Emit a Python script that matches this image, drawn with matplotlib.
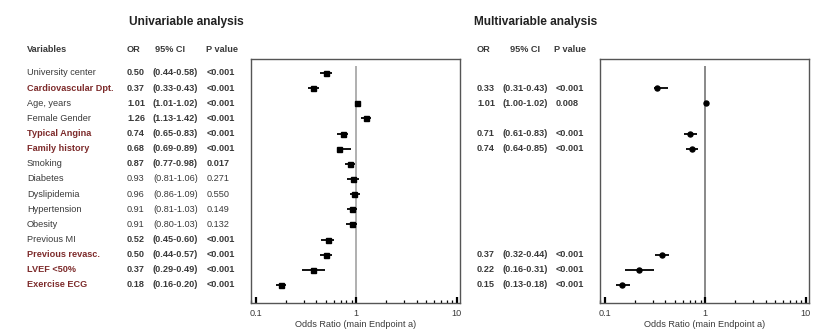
import matplotlib.pyplot as plt
import matplotlib.transforms as mtransforms

plt.rcParams['font.family'] = ['Liberation Sans', 'DejaVu Sans']

variables = ["University center", "Cardiovascular Dpt.", "Age, years", "Female Gender",
             "Typical Angina", "Family history", "Smoking", "Diabetes", "Dyslipidemia",
             "Hypertension", "Obesity", "Previous MI", "Previous revasc.", "LVEF <50%",
             "Exercise ECG"]
highlight = [False, True, False, False, True, True, False, False, False,
             False, False, False, True, True, True]

# univariable analysis
uni_or = [0.50, 0.37, 1.01, 1.26, 0.74, 0.68, 0.87, 0.93, 0.96, 0.91, 0.91, 0.52, 0.50, 0.37, 0.18]
uni_lo = [0.44, 0.33, 1.01, 1.13, 0.65, 0.69, 0.77, 0.81, 0.86, 0.81, 0.80, 0.45, 0.44, 0.29, 0.16]
uni_hi = [0.58, 0.43, 1.02, 1.42, 0.83, 0.89, 0.98, 1.06, 1.09, 1.03, 1.03, 0.60, 0.57, 0.49, 0.20]
uni_p = ["<0.001", "<0.001", "<0.001", "<0.001", "<0.001", "<0.001", "0.017", "0.271",
         "0.550", "0.149", "0.132", "<0.001", "<0.001", "<0.001", "<0.001"]

# multivariable analysis (row index into variables)
multi_rows = [1, 2, 4, 5, 12, 13, 14]
multi_or = [0.33, 1.01, 0.71, 0.74, 0.37, 0.22, 0.15]
multi_lo = [0.31, 1.00, 0.61, 0.64, 0.32, 0.16, 0.13]
multi_hi = [0.43, 1.02, 0.83, 0.85, 0.44, 0.31, 0.18]
multi_p = ["<0.001", "0.008", "<0.001", "<0.001", "<0.001", "<0.001", "<0.001"]

W, H = 828, 336
fig = plt.figure(figsize=(W / 100, H / 100), dpi=100)

def px_axes(x0, y0, x1, y1):
    return fig.add_axes([x0 / W, 1 - y1 / H, (x1 - x0) / W, (y1 - y0) / H])

ax1 = px_axes(251, 59, 460, 303)
ax2 = px_axes(600, 59, 809, 303)

txt = '#3a3a3a'
red = '#7d2b2b'
fs = 6.6

def forest(ax, rows, ors, los, his, marker, ref_color):
    ax.vlines(1, -0.45, 15.3, color=ref_color, lw=1.1, zorder=1)
    # confidence intervals, then point estimates on top
    ax.hlines(rows, los, his, color='black', lw=1.3, zorder=2)
    ax.plot(ors, rows, marker, color='black', ms=3.6, zorder=3)
    ax.set_xscale('log')
    ax.set_xlim(0.09, 10.8)
    ax.set_ylim(15.19, -0.92)
    ax.set_yticks([])
    ax.set_xticks([0.1, 1, 10])
    ax.set_xticklabels(['0.1', '1', '10'])
    ax.tick_params(axis='x', which='major', direction='in', length=4, width=1.6,
                   labelsize=fs, labelcolor=txt, pad=4, color='black')
    ax.tick_params(axis='x', which='minor', direction='in', length=2.2, width=0.9,
                   color='black')
    for s in ax.spines.values():
        s.set_color('#555555')
        s.set_linewidth(1.0)
    ax.set_xlabel('Odds Ratio (main Endpoint a)', fontsize=fs, color=txt, labelpad=2)

forest(ax1, list(range(len(variables))), uni_or, uni_lo, uni_hi, 's', '#9a9a9a')
forest(ax2, multi_rows, multi_or, multi_lo, multi_hi, 'o', '#6a6a6a')

tr = mtransforms.blended_transform_factory(fig.transFigure, ax1.transData)

def fx(px):
    return px / W

# headers
fig.text(fx(186), 1 - 22 / H, 'Univariable analysis', fontsize=8.6, fontweight='bold',
         color='#222222', ha='center', va='center')
fig.text(fx(536), 1 - 22 / H, 'Multivariable analysis', fontsize=8.6, fontweight='bold',
         color='#222222', ha='center', va='center')
for x, s in [(27, 'Variables'), (127, 'OR'), (153, '95% CI'), (206, 'P value'),
             (477, 'OR'), (508, '95% CI'), (554, 'P value')]:
    if s == '95% CI':
        fig.text(fx(x + 17), 1 - 49 / H, s, fontsize=fs, fontweight='bold', color=txt,
                 ha='center', va='center')
    else:
        fig.text(fx(x), 1 - 49 / H, s, fontsize=fs, fontweight='bold', color=txt,
                 ha='left', va='center')

# univariable table
for i, name in enumerate(variables):
    sig = uni_p[i].startswith('<') or uni_p[i] == '0.017'
    fig.text(fx(27), i, name, transform=tr, fontsize=fs, va='center', ha='left',
             color=red if highlight[i] else txt,
             fontweight='bold' if highlight[i] else 'normal')
    w = 'bold' if sig else 'normal'
    fig.text(fx(127), i, f'{uni_or[i]:.2f}', transform=tr, fontsize=fs, va='center',
             fontweight=w, color=txt)
    fig.text(fx(153), i, f'({uni_lo[i]:.2f}-{uni_hi[i]:.2f})', transform=tr, fontsize=fs,
             va='center', fontweight=w, color=txt)
    fig.text(fx(207), i, uni_p[i], transform=tr, fontsize=fs, va='center',
             fontweight=w, color=txt)

# multivariable table
for j, r in enumerate(multi_rows):
    fig.text(fx(477), r, f'{multi_or[j]:.2f}', transform=tr, fontsize=fs, va='center',
             fontweight='bold', color=txt)
    fig.text(fx(503), r, f'({multi_lo[j]:.2f}-{multi_hi[j]:.2f})', transform=tr,
             fontsize=fs, va='center', fontweight='bold', color=txt)
    fig.text(fx(556), r, multi_p[j], transform=tr, fontsize=fs, va='center',
             fontweight='bold', color=txt)

fig.savefig('out.png', dpi=100)
